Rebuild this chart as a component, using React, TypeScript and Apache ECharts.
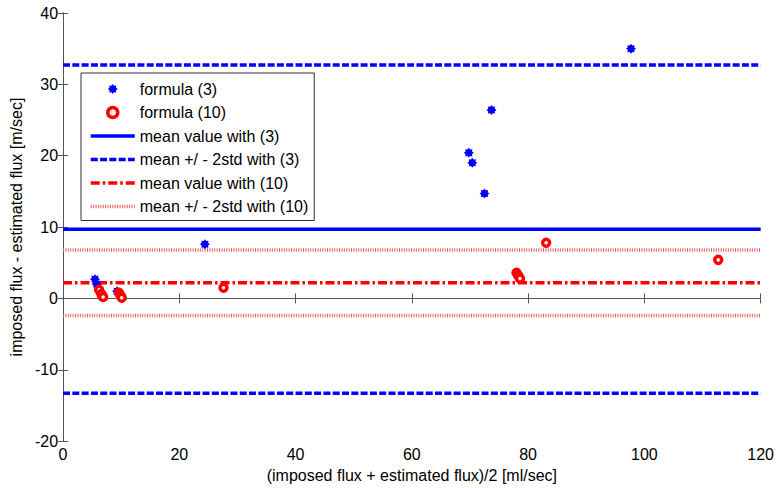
import React, { useEffect, useRef } from "react";
import * as echarts from "echarts";

const xFormula3 = [5.5, 5.8, 9.3, 24.4, 69.8, 70.4, 72.5, 73.7, 97.7];
const yFormula3 = [2.7, 2.0, 1.0, 7.6, 20.4, 19.0, 14.7, 26.4, 35.0];
const xFormula10 = [6.2, 6.6, 6.9, 9.6, 9.9, 10.1, 27.6, 78.0, 78.3, 78.6, 83.1, 112.7];
const yFormula10 = [1.2, 0.6, 0.2, 0.8, 0.4, 0.1, 1.5, 3.6, 3.2, 2.8, 7.8, 5.4];
const mean3 = 9.7;
const band3 = [32.7, -13.3];
const mean10 = 2.2;
const band10 = [6.8, -2.4];
const xRange = [0, 120];
const yRange = [-20, 40];
const names = [
  "formula (3)",
  "formula (10)",
  "mean value with (3)",
  "mean +/ - 2std with (3)",
  "mean value with (10)",
  "mean +/ - 2std with (10)",
];

// asterisk-like star symbol path
const starPath = (() => {
  const pts: string[] = [];
  for (let i = 0; i < 16; i++) {
    const a = (i * Math.PI) / 8;
    const r = i % 2 === 0 ? 10 : 7;
    pts.push(`${(10 + r * Math.cos(a)).toFixed(2)},${(10 + r * Math.sin(a)).toFixed(2)}`);
  }
  return "path://M" + pts.join("L") + "Z";
})();

const FONT = "'Liberation Sans', Arial, Helvetica, sans-serif";

const styles: any[] = [
  null,
  null,
  { color: "#0000ff", width: 3.5, type: "solid" },
  { color: "#0000ff", width: 3.5, type: [7, 2.3] },
  { color: "#ff0000", width: 3.5, type: [9, 3, 2.5, 3] },
  { color: "#e65a5a", width: 3.5, type: [1, 1.4] },
];

export default function App() {
  const ref = useRef<HTMLDivElement>(null);
  useEffect(() => {
    if (!ref.current) return;
    const chart = echarts.init(ref.current, undefined, { renderer: "svg" });
    const hLine = (y: number) => [
      [xRange[0], y],
      [xRange[1], y],
    ];
    const axisLine = { show: true, lineStyle: { color: "#555", width: 1 } };
    const tick = { show: true, inside: true, length: 5, lineStyle: { color: "#555" } };
    const option: any = {
      animation: false,
      backgroundColor: "#fff",
      textStyle: { fontFamily: FONT },
      grid: { left: 60, right: 14, top: 13, bottom: 45, containLabel: false },
      xAxis: [
        {
          type: "value",
          min: xRange[0],
          max: xRange[1],
          interval: 20,
          position: "bottom",
          axisLine,
          axisTick: tick,
          axisLabel: { color: "#000", fontSize: 16, fontFamily: FONT, margin: 5 },
          splitLine: { show: false },
          name: "(imposed flux + estimated flux)/2 [ml/sec]",
          nameLocation: "middle",
          nameGap: 24,
          nameTextStyle: { color: "#000", fontSize: 16, fontFamily: FONT },
        },
        {
          type: "value",
          min: xRange[0],
          max: xRange[1],
          interval: 20,
          position: "top",
          axisLine,
          axisTick: tick,
          axisLabel: { show: false },
          splitLine: { show: false },
        },
      ],
      yAxis: [
        {
          type: "value",
          min: yRange[0],
          max: yRange[1],
          interval: 10,
          position: "left",
          axisLine,
          axisTick: tick,
          axisLabel: { color: "#000", fontSize: 16, fontFamily: FONT, margin: 5 },
          splitLine: { show: false },
          name: "imposed flux - estimated flux [m/sec]",
          nameLocation: "middle",
          nameGap: 34,
          nameTextStyle: { color: "#000", fontSize: 16, fontFamily: FONT },
        },
        {
          type: "value",
          min: yRange[0],
          max: yRange[1],
          interval: 10,
          position: "right",
          axisLine,
          axisTick: tick,
          axisLabel: { show: false },
          splitLine: { show: false },
        },
      ],
      legend: {
        orient: "vertical",
        left: 81,
        top: 73,
        padding: [8, 6, 6, 8],
        itemGap: 7.5,
        itemWidth: 44,
        itemHeight: 10,
        backgroundColor: "#fff",
        borderColor: "#333",
        borderWidth: 1,
        borderRadius: 0,
        data: names.map((n, i) => {
          if (i === 0) return { name: n };
          if (i === 1) return { name: n, itemStyle: { borderWidth: 3.5, borderColor: "#ff0000", color: "#fff" } };
          return { name: n, itemStyle: { opacity: 0 }, lineStyle: styles[i] };
        }),
        textStyle: { color: "#000", fontSize: 16, fontFamily: FONT, lineHeight: 16 },
      },
      series: [
        {
          name: names[2],
          type: "line",
          data: hLine(mean3),
          symbol: "none",
          lineStyle: styles[2],
          itemStyle: { color: "#0000ff" },
          z: 2,
        },
        ...band3.map((v) => ({
          name: names[3],
          type: "line",
          data: hLine(v),
          symbol: "none",
          lineStyle: styles[3],
          itemStyle: { color: "#0000ff" },
          z: 2,
        })),
        {
          name: names[4],
          type: "line",
          data: hLine(mean10),
          symbol: "none",
          lineStyle: styles[4],
          itemStyle: { color: "#ff0000" },
          z: 2,
        },
        ...band10.map((v) => ({
          name: names[5],
          type: "line",
          data: hLine(v),
          symbol: "none",
          lineStyle: styles[5],
          itemStyle: { color: "#e65a5a" },
          z: 2,
        })),
        {
          name: names[0],
          type: "scatter",
          data: xFormula3.map((x, i) => [x, yFormula3[i]]),
          symbol: starPath,
          symbolSize: 10,
          itemStyle: { color: "#0000ff", opacity: 1 },
          z: 5,
        },
        {
          name: names[1],
          type: "scatter",
          data: xFormula10.map((x, i) => [x, yFormula10[i]]),
          symbol: "circle",
          symbolSize: 7,
          itemStyle: { color: "#ffffff", borderColor: "#ff0000", borderWidth: 3.5, opacity: 1 },
          z: 6,
        },
      ],
    };
    chart.setOption(option);
    return () => chart.dispose();
  }, []);
  return <div ref={ref} style={{ width: 777, height: 488, position: "absolute", left: 0, top: 0 }} />;
}
